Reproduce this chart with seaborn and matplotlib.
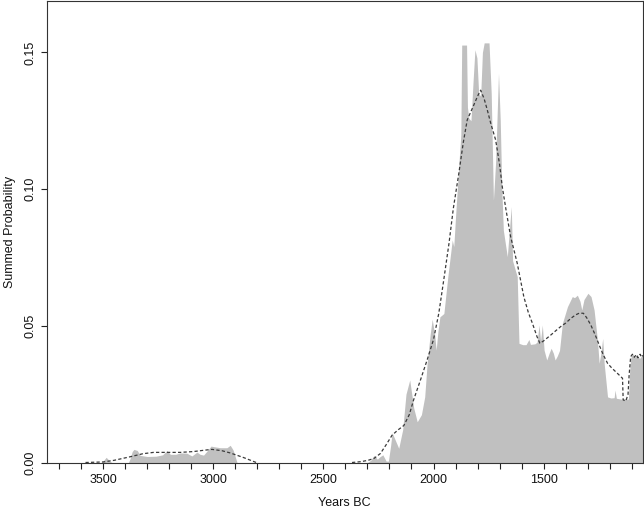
import numpy as np
import pandas as pd
import matplotlib
matplotlib.use("Agg")
import matplotlib.pyplot as plt
import seaborn as sns

# Summed probability (grey area): years BC and values
spd_years = [3760, 3510, 3500, 3486, 3470, 3460, 3385, 3377, 3368, 3360, 3345, 3332, 3300,
             3260, 3230, 3210, 3195, 3170, 3150, 3120, 3097, 3074, 3060, 3044, 3025, 3010,
             2998, 2968, 2938, 2923, 2910, 2892, 2300, 2285, 2270, 2255, 2245, 2230, 2215,
             2205, 2195, 2188, 2170, 2158, 2140, 2125, 2108, 2090, 2074, 2055, 2040, 2029,
             2015, 2006, 1995, 1988, 1980, 1971, 1953, 1935, 1915, 1908, 1900, 1885, 1876,
             1872, 1850, 1846, 1840, 1830, 1820, 1812, 1803, 1795, 1786, 1778, 1770, 1748,
             1738, 1728, 1718, 1705, 1697, 1690, 1683, 1665, 1658, 1647, 1641, 1620, 1612,
             1595, 1580, 1567, 1560, 1540, 1530, 1521, 1514, 1506, 1498, 1486, 1475, 1466,
             1456, 1448, 1438, 1428, 1415, 1392, 1370, 1360, 1347, 1335, 1327, 1317, 1299,
             1285, 1271, 1256, 1248, 1240, 1232, 1225, 1210, 1195, 1180, 1176, 1170, 1150,
             1135, 1115, 1110, 1105, 1097, 1085, 1075, 1065, 1049]
spd_values = [0, 0, 0.0005, 0.0019, 0.0005, 0, 0, 0.0015, 0.0040, 0.0048, 0.0044, 0.0026, 0.0022,
              0.0023, 0.0028, 0.0044, 0.0030, 0.0030, 0.0035, 0.0034, 0.0024, 0.0038, 0.0030,
              0.0027, 0.0045, 0.0060, 0.0058, 0.0054, 0.0054, 0.0063, 0.0046, 0, 0, 0.0008,
              0.0026, 0.0012, 0.0020, 0.0028, 0.0005, 0.0005, 0.0060, 0.0109, 0.0075, 0.0052,
              0.0120, 0.0250, 0.0302, 0.0200, 0.0149, 0.0175, 0.0240, 0.0363, 0.0470, 0.0524,
              0.0470, 0.0411, 0.0480, 0.0533, 0.0545, 0.0680, 0.0814, 0.0790, 0.0899, 0.1090,
              0.1200, 0.1527, 0.1527, 0.1300, 0.1260, 0.1250, 0.1400, 0.1510, 0.1480, 0.1350,
              0.1340, 0.1500, 0.1535, 0.1535, 0.1350, 0.0960, 0.1100, 0.1424, 0.1250, 0.1000,
              0.0850, 0.0753, 0.0826, 0.0936, 0.0738, 0.0680, 0.0436, 0.0431, 0.0431, 0.0450,
              0.0432, 0.0434, 0.0440, 0.0503, 0.0445, 0.0503, 0.0411, 0.0375, 0.0400, 0.0418,
              0.0400, 0.0375, 0.0390, 0.0410, 0.0509, 0.0570, 0.0607, 0.0603, 0.0612, 0.0590,
              0.0558, 0.0596, 0.0619, 0.0607, 0.0558, 0.0448, 0.0363, 0.0400, 0.0454, 0.0360,
              0.0240, 0.0236, 0.0237, 0.0265, 0.0235, 0.0232, 0.0232, 0.0232, 0.0330, 0.0381,
              0.0399, 0.0385, 0.0395, 0.0380, 0.0396]

# Smoothed curve (dashed line), two segments
smooth_years_a = [3580, 3500, 3450, 3377, 3320, 3271, 3200, 3150, 3090, 3040, 3006, 2960,
                  2923, 2862, 2805]
smooth_values_a = [0, 0.0002, 0.0008, 0.0021, 0.0032, 0.0037, 0.0037, 0.0037, 0.0040,
                   0.0045, 0.0048, 0.0043, 0.0035, 0.0018, 0]
smooth_years_b = [2370, 2330, 2297, 2270, 2241, 2215, 2188, 2160, 2135, 2110, 2090, 2060,
                  2029, 2000, 1976, 1955, 1930, 1910, 1885, 1865, 1847, 1817, 1800, 1786,
                  1770, 1756, 1740, 1718, 1700, 1688, 1670, 1650, 1620, 1590, 1570, 1551,
                  1530, 1517, 1500, 1468, 1445, 1423, 1400, 1377, 1355, 1339, 1320, 1305,
                  1286, 1265, 1248, 1230, 1210, 1190, 1165, 1142, 1139, 1127, 1117, 1112,
                  1105, 1097, 1088, 1080, 1072, 1062, 1055, 1049]
smooth_values_b = [0, 0.0003, 0.0008, 0.0015, 0.0033, 0.0065, 0.0100, 0.0120, 0.0135, 0.0175,
                   0.0230, 0.0300, 0.0375, 0.0450, 0.0546, 0.0660, 0.0800, 0.0930, 0.1058,
                   0.1170, 0.1253, 0.1308, 0.1340, 0.1362, 0.1330, 0.1290, 0.1240, 0.1180,
                   0.1090, 0.1009, 0.0920, 0.0826, 0.0729, 0.0606, 0.0550, 0.0509, 0.0460,
                   0.0436, 0.0445, 0.0466, 0.0482, 0.0497, 0.0510, 0.0527, 0.0540, 0.0546,
                   0.0546, 0.0530, 0.0503, 0.0465, 0.0430, 0.0395, 0.0363, 0.0345, 0.0326,
                   0.0308, 0.0229, 0.0225, 0.0249, 0.0320, 0.0387, 0.0396, 0.0385, 0.0395,
                   0.0383, 0.0396, 0.0385, 0.0392]

x_tick_labels = ["3500", "3000", "2500", "2000", "1500"]
y_tick_labels = ["0.00", "0.05", "0.10", "0.15"]

sns.set_style("ticks")
plt.rcParams["font.family"] = ["Liberation Sans", "DejaVu Sans"]

fig = plt.figure(figsize=(6.44, 5.08), dpi=100)
W, H = 644, 508
ax = fig.add_axes([46.5 / W, 45.5 / H, (643 - 46.5) / W, (462.5 - 0.5) / H])

spd = pd.DataFrame({"year": spd_years, "prob": spd_values})
ax.fill_between(spd["year"], 0, spd["prob"], color="#c0c0c0", linewidth=0)

smooth = pd.concat([
    pd.DataFrame({"year": smooth_years_a, "prob": smooth_values_a, "seg": 0}),
    pd.DataFrame({"year": smooth_years_b, "prob": smooth_values_b, "seg": 1}),
])
sns.lineplot(data=smooth, x="year", y="prob", units="seg", estimator=None, sort=False,
             ax=ax, color="#3a3a3a", linewidth=0.9, dashes=(2.6, 1.8))
for ln in ax.get_lines():
    ln.set_dashes((2.6, 1.8))

ax.set_xlim(3757, 1049)
ax.set_ylim(0, 0.169)

xt = list(range(3700, 1099, -100))
ax.set_xticks(xt)
ax.set_xticklabels([str(v) if str(v) in x_tick_labels else "" for v in xt])
ax.set_yticks([float(v) for v in y_tick_labels])
ax.set_yticklabels(y_tick_labels, rotation=90, va="center")

ax.tick_params(axis="both", direction="out", length=4.2, width=0.8, colors="#222222",
               labelsize=9, labelcolor="#111111")
ax.tick_params(axis="x", pad=4)
ax.tick_params(axis="y", pad=3)

for s in ax.spines.values():
    s.set_visible(True)
    s.set_linewidth(0.8)
    s.set_color("#333333")

ax.set_xlabel("Years BC", fontsize=9, color="#111111", labelpad=8)
ax.set_ylabel("Summed Probability", fontsize=9, color="#111111", labelpad=6)

fig.savefig("out.png", dpi=100)
